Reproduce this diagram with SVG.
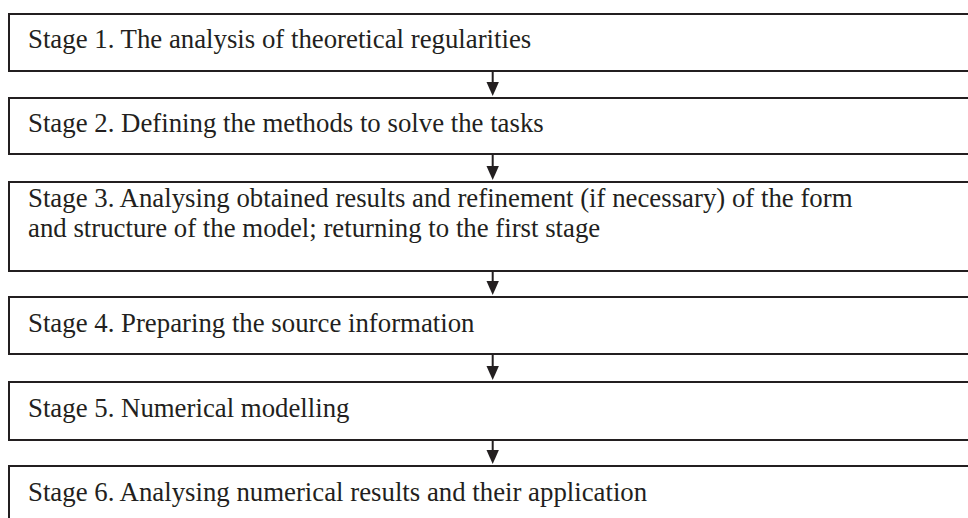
<svg xmlns="http://www.w3.org/2000/svg" width="968" height="518" viewBox="0 0 968 518">
  <style>
    .box { fill: #ffffff; stroke: #231f20; stroke-width: 2; }
    .lbl { font-family: "Liberation Serif", "Times New Roman", serif; font-size: 26.8px; fill: #231f20; }
    .link { stroke: #231f20; stroke-width: 2; fill: none; }
    .head { fill: #231f20; }
  </style>
  <rect width="968" height="518" fill="#ffffff"/>

  <g id="stage1">
    <rect class="box" x="9" y="14" width="970" height="57"/>
    <text class="lbl" x="28" y="47.5">Stage 1. The analysis of theoretical regularities</text>
  </g>
  <g id="stage2">
    <rect class="box" x="9" y="98" width="970" height="56"/>
    <text class="lbl" x="28" y="131.5">Stage 2. Defining the methods to solve the tasks</text>
  </g>
  <g id="stage3">
    <rect class="box" x="9" y="182" width="970" height="89"/>
    <text class="lbl" x="28" y="207.3">Stage 3. Analysing obtained results and refinement (if necessary) of the form</text>
    <text class="lbl" x="28" y="236.5">and structure of the model; returning to the first stage</text>
  </g>
  <g id="stage4">
    <rect class="box" x="9" y="297" width="970" height="57"/>
    <text class="lbl" x="28" y="331.5">Stage 4. Preparing the source information</text>
  </g>
  <g id="stage5">
    <rect class="box" x="9" y="382" width="970" height="58"/>
    <text class="lbl" x="28" y="416.5">Stage 5. Numerical modelling</text>
  </g>
  <g id="stage6">
    <rect class="box" x="9" y="466" width="970" height="70"/>
    <text class="lbl" x="28" y="500.5">Stage 6. Analysing numerical results and their application</text>
  </g>

  <g id="connectors">
    <line class="link" x1="492.7" y1="71" x2="492.7" y2="84"/>
    <polygon class="head" points="486.5,82 498.9,82 492.7,96"/>
    <line class="link" x1="492.7" y1="154" x2="492.7" y2="168"/>
    <polygon class="head" points="486.5,166 498.9,166 492.7,180"/>
    <line class="link" x1="492.7" y1="271" x2="492.7" y2="283"/>
    <polygon class="head" points="486.5,281 498.9,281 492.7,295"/>
    <line class="link" x1="492.7" y1="354" x2="492.7" y2="368"/>
    <polygon class="head" points="486.5,366 498.9,366 492.7,380"/>
    <line class="link" x1="492.7" y1="440" x2="492.7" y2="452"/>
    <polygon class="head" points="486.5,450 498.9,450 492.7,464"/>
  </g>
</svg>
